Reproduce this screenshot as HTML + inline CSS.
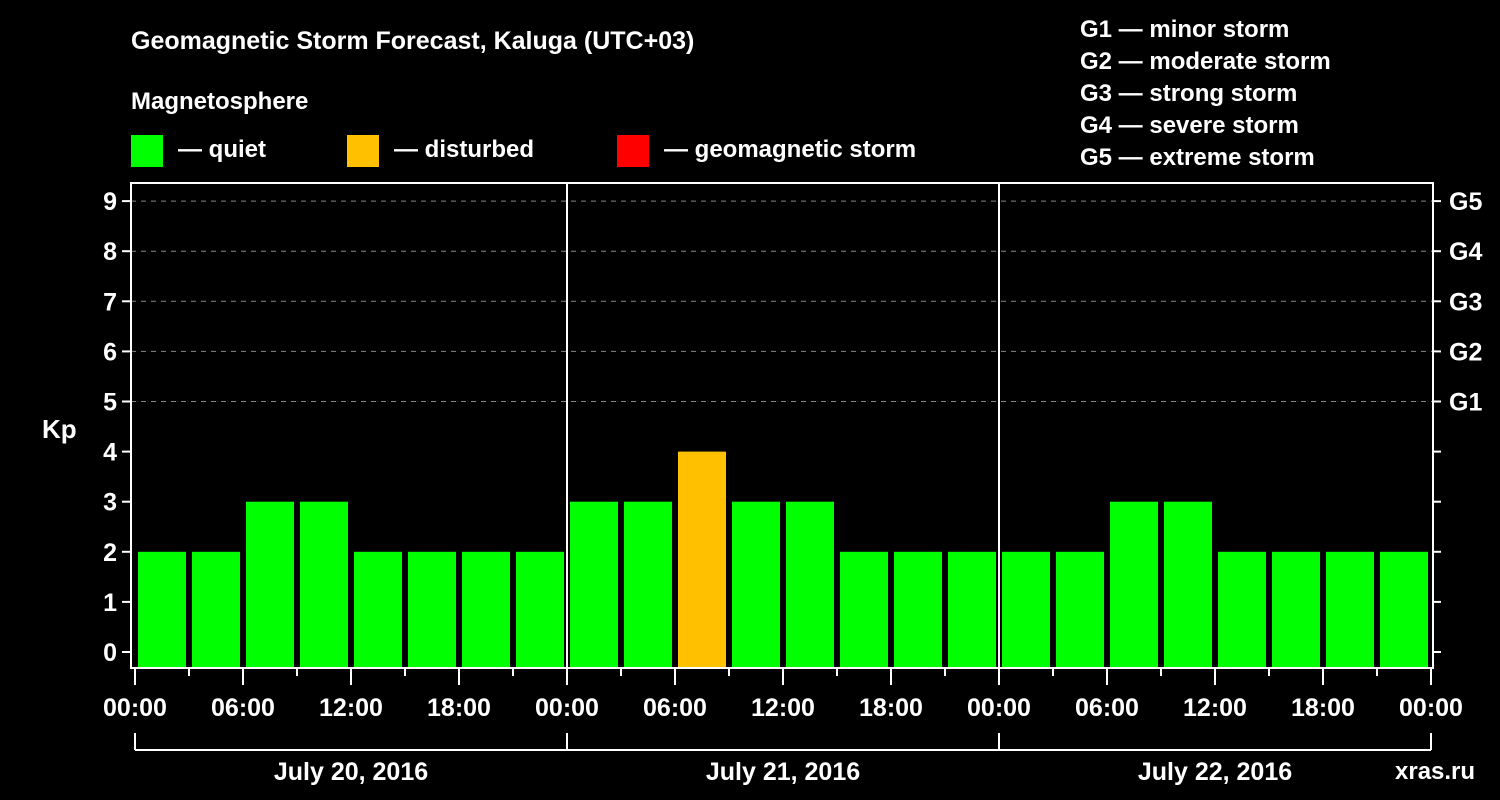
<!DOCTYPE html>
<html><head><meta charset="utf-8"><style>
body{margin:0;background:#000;}
svg{display:block;font-family:"Liberation Sans",sans-serif;font-weight:bold;}
</style></head><body>
<svg id="c" width="1500" height="800" viewBox="0 0 1500 800">
<rect width="1500" height="800" fill="#000"/>
<text x="131" y="49" fill="#fff" font-size="25">Geomagnetic Storm Forecast, Kaluga (UTC+03)</text>
<text x="131" y="109" fill="#fff" font-size="24">Magnetosphere</text>
<g><rect x="131" y="135" width="32" height="32" fill="#00ff00"/><text x="178" y="157" fill="#fff" font-size="24">— quiet</text></g>
<g><rect x="347" y="135" width="32" height="32" fill="#ffc000"/><text x="394" y="157" fill="#fff" font-size="24">— disturbed</text></g>
<g><rect x="617" y="135" width="32" height="32" fill="#ff0000"/><text x="664" y="157" fill="#fff" font-size="24">— geomagnetic storm</text></g>
<g fill="#fff" font-size="24">
<text x="1080" y="37">G1 — minor storm</text>
<text x="1080" y="69">G2 — moderate storm</text>
<text x="1080" y="101">G3 — strong storm</text>
<text x="1080" y="133">G4 — severe storm</text>
<text x="1080" y="165">G5 — extreme storm</text>
</g>
<text x="42" y="438" fill="#fff" font-size="26">Kp</text>
<text x="1395" y="779" fill="#fff" font-size="24">xras.ru</text>
<g id="plot"></g>
</svg>
<script>
const kpValues=[2,2,3,3,2,2,2,2, 3,3,4,3,3,2,2,2, 2,2,3,3,2,2,2,2];
const dayLabels=["July 20, 2016","July 21, 2016","July 22, 2016"];
const yTicks=[0,1,2,3,4,5,6,7,8,9];
const gLabels=["G1","G2","G3","G4","G5"];
const timeLabels=["00:00","06:00","12:00","18:00"];

const NS="http://www.w3.org/2000/svg";
const g=document.getElementById('plot');
const x0=135,slot=54,frameL=131,frameR=1433,frameT=183,frameB=668;
const y=v=>652-v*50.1;
const xs=i=>x0+i*slot;
function mk(t,a){const e=document.createElementNS(NS,t);for(const k in a)e.setAttribute(k,a[k]);g.appendChild(e);return e;}
// grid
for(const v of yTicks){
  if(v>=5){const l=mk('line',{x1:frameL,x2:frameR,y1:y(v),y2:y(v),stroke:'#888','stroke-dasharray':'5,5','stroke-width':1});
  
  }
  const t=mk('line',{x1:frameL-9,x2:frameL,y1:y(v),y2:y(v),stroke:'#fff','stroke-width':2});
  
  
  const rt=mk('line',{x1:frameR,x2:frameR+8,y1:y(v),y2:y(v),stroke:'#fff','stroke-width':2});
  
  
  const tx=mk('text',{x:frameL-14,y:y(v)+9,fill:'#fff','font-size':25,'text-anchor':'end'});
  tx.textContent=v;
  
  
}
gLabels.forEach((s,i)=>{
  const tx=mk('text',{x:1449,y:y(5+i)+9,fill:'#fff','font-size':25});
  tx.textContent=s;
  
  
});
// bars
kpValues.forEach((v,i)=>{
  const c=v>=5?'#ff0000':(v>=4?'#ffc000':'#00ff00');
  const b=mk('rect',{x:xs(i)+3,y:y(v),width:48,height:667-y(v),fill:c});
  
  
});
// day separators
for(let d=1;d<dayLabels.length;d++){
  const l=mk('line',{x1:xs(d*8),x2:xs(d*8),y1:frameT,y2:frameB,stroke:'#fff','stroke-width':2});
  
  
}
// frame
const f=mk('rect',{x:frameL,y:frameT,width:frameR-frameL,height:frameB-frameT,fill:'none',stroke:'#fff','stroke-width':2});


// x ticks
const n=kpValues.length;
for(let i=0;i<=n;i++){
  const major=i%2===0;
  const t=mk('line',{x1:xs(i),x2:xs(i),y1:frameB,y2:frameB+(major?17:8),stroke:'#fff','stroke-width':2});
  
  
  if(major){
    const tx=mk('text',{x:xs(i),y:716,fill:'#fff','font-size':25,'text-anchor':'middle'});
    tx.textContent=timeLabels[(i/2)%4];
    
    
  }
}
// day bracket
const br=mk('line',{x1:xs(0),x2:xs(n),y1:750,y2:750,stroke:'#fff','stroke-width':2});


dayLabels.forEach((s,d)=>{
  const l=mk('line',{x1:xs(d*8),x2:xs(d*8),y1:733,y2:750,stroke:'#fff','stroke-width':2});
  
  
  const tx=mk('text',{x:xs(d*8+4),y:780,fill:'#fff','font-size':25,'text-anchor':'middle'});
  tx.textContent=s;
  
  
});
const le=mk('line',{x1:xs(n),x2:xs(n),y1:733,y2:750,stroke:'#fff','stroke-width':2});


</script>
</body></html>
